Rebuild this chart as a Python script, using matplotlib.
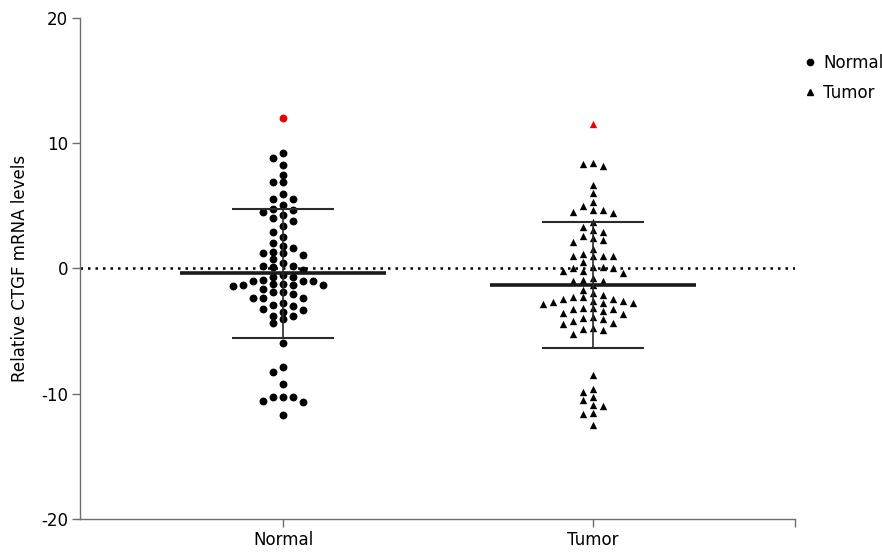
import matplotlib
matplotlib.use('Agg')
import matplotlib.pyplot as plt
from matplotlib.lines import Line2D
import numpy as np

plt.rcParams['axes.unicode_minus'] = False

# group labels
groups = ['Normal', 'Tumor']

# relative CTGF mRNA levels
normal_vals = [9.25, 8.85, 8.3, 7.45, 6.93, 6.88, 5.95, 5.57, 5.55, 5.05,
               4.75, 4.67, 4.49, 4.27, 4.0, 3.79, 3.42, 2.89, 2.5, 2.0,
               1.82, 1.61, 1.34, 1.26, 1.26, 1.1, 0.75, 0.4, 0.22, 0.2,
               0.15, -0.12, -0.52, -0.65, -0.7, -0.92, -0.97, -0.97, -0.97,
               -1.24, -1.24, -1.32, -1.32, -1.32, -1.37, -1.66, -1.85, -1.85,
               -2.06, -2.33, -2.38, -2.38, -2.78, -2.91, -3.0, -3.26, -3.31,
               -3.45, -3.79, -3.79, -4.06, -4.38, -5.92, -7.84, -8.24, -9.22,
               -10.23, -10.3, -10.3, -10.55, -10.63, -11.7]
normal_outlier = [12.0]

tumor_vals = [8.4, 8.32, 8.18, 6.68, 6.02, 5.33, 4.96, 4.67, 4.67, 4.49,
              4.4, 3.7, 3.28, 3.1, 2.94, 2.63, 2.43, 2.28, 2.1, 1.57,
              1.12, 1.0, 1.0, 1.0, 1.0, 0.54, 0.15, 0.15, 0.07, 0.02,
              -0.2, -0.2, -0.38, -0.73, -0.92, -1.0, -1.0, -1.35,
              -2.42, -2.3, -2.65, -3.15, -4.02,
              -1.98, -2.46, -2.8, -3.2, -3.6, -4.4, -4.9,
              -1.72, -2.25, -2.73, -3.18, -3.58, -3.98, -4.38, -4.78, -5.2,
              -2.12, -2.75, -3.4, -4.2, -4.8,
              -2.58, -3.2, -3.85, -2.62,
              -8.5, -9.6, -9.85, -10.3, -10.5, -10.9, -11.0, -11.5, -11.6, -12.5]
tumor_outlier = [11.54]

markers = ['o', '^']


def swarm_offsets(vals, gap=0.56, step=0.032):
    # put each point in the first free column: 0, -1, +1, -2, +2 ...
    vals = np.asarray(vals)
    cols = [0]
    for j in range(1, 15):
        cols += [-j, j]
    placed = {}
    offs = np.zeros(len(vals))
    for i in np.argsort(vals)[::-1]:
        v = vals[i]
        for c in cols:
            if all(abs(v - w) >= gap for w in placed.get(c, [])):
                placed.setdefault(c, []).append(v)
                offs[i] = c * step
                break
    return offs


fig = plt.figure(figsize=(8.82, 5.53), dpi=100)
ax = fig.add_axes([0.0907, 0.0615, 0.8107, 0.906])

axis_col = '#6e6e6e'
data = [(normal_vals, normal_outlier), (tumor_vals, tumor_outlier)]
for pos, (vals, outl), mk in zip([1, 2], data, markers):
    xs = pos + swarm_offsets(vals)
    size = 32 if mk == 'o' else 28
    ax.scatter(xs, vals, s=size, marker=mk, color='black', linewidths=0, zorder=2)
    ax.scatter([pos] * len(outl), outl, s=size, marker=mk, color='#e8000b',
               linewidths=0, zorder=2)
    allv = np.array(vals + outl)
    m = allv.mean()
    sd = allv.std(ddof=1)
    ax.hlines(m, pos - 0.333, pos + 0.333, color='#1a1a1a', lw=2.6, zorder=3)
    ax.hlines([m - sd, m + sd], pos - 0.166, pos + 0.166, color='#2b2b2b', lw=1.5, zorder=3)
    ax.vlines(pos, m - sd, m + sd, color='#2b2b2b', lw=1.2, zorder=3)

ax.axhline(0, color='black', lw=1.8, ls=(0, (1, 2)), zorder=1)

ax.set_xlim(0.345, 2.652)
ax.set_ylim(-20, 20)
ax.set_yticks([-20, -10, 0, 10, 20])
ax.set_xticks([1, 2])
ax.set_xticklabels(groups)
ax.set_xticks([2.652], minor=True)
ax.tick_params(axis='both', which='both', direction='out', length=5.5, width=1,
               color=axis_col, labelsize=12, pad=3)
ax.set_ylabel('Relative CTGF mRNA levels', fontsize=12, labelpad=9)

for s in ['top', 'right']:
    ax.spines[s].set_visible(False)
for s in ['left', 'bottom']:
    ax.spines[s].set_color(axis_col)
    ax.spines[s].set_linewidth(1)

handles = [Line2D([], [], ls='none', marker='o', color='black', markersize=4.5),
           Line2D([], [], ls='none', marker='^', color='black', markersize=4.5)]
fig.legend(handles, groups, loc='upper left', bbox_to_anchor=(0.905, 0.915),
           frameon=False, fontsize=12, handlelength=0.6, handletextpad=0.5,
           labelspacing=0.75, borderaxespad=0)

fig.savefig('out.png', dpi=100)
